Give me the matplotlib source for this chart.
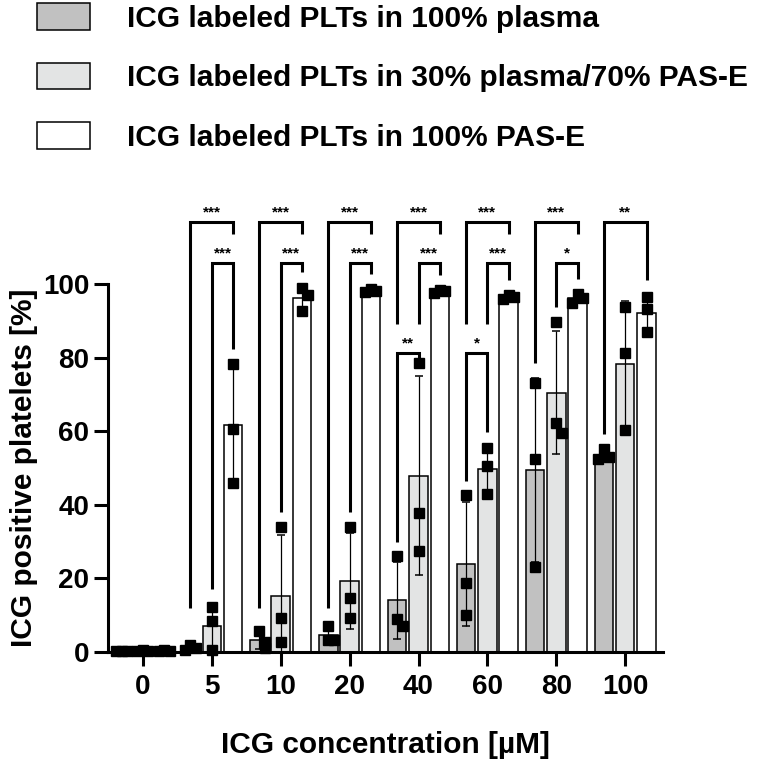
import matplotlib
matplotlib.use("Agg")
import matplotlib.pyplot as plt
from matplotlib.patches import Patch
import numpy as np

plt.rcParams['font.family'] = ['Liberation Sans', 'DejaVu Sans']
plt.rcParams['font.weight'] = 'bold'

# ICG concentration groups
concentrations = ['0', '5', '10', '20', '40', '60', '80', '100']

# three replicates per bar
plasma_100 = [[0.3, 0.4, 0.2], [2.0, 1.0, 0.5], [5.6, 2.8, 1.0], [7.0, 3.3, 3.3],
              [26.0, 9.0, 7.0], [42.6, 18.8, 10.0], [73.0, 52.4, 23.0], [55.2, 52.4, 53.0]]
plasma_30 = [[0.5, 0.4, 0.3], [12.2, 8.5, 0.5], [34.0, 9.2, 2.7], [34.0, 14.7, 9.2],
             [78.5, 37.8, 27.5], [55.4, 50.6, 43.0], [89.7, 62.2, 59.6], [93.7, 81.2, 60.3]]
pas_100 = [[0.4, 0.5, 0.3], [78.3, 60.6, 45.9], [98.8, 97.0, 92.7], [98.6, 98.2, 97.8],
           [98.5, 98.0, 97.6], [97.0, 96.6, 96.0], [97.3, 96.3, 94.8], [96.5, 93.2, 87.0]]

labels = ['ICG labeled PLTs in 100% plasma',
          'ICG labeled PLTs in 30% plasma/70% PAS-E',
          'ICG labeled PLTs in 100% PAS-E']
colors = ['#c1c1c1', '#e3e4e4', '#ffffff']

# significance: (group index, bar a, bar b, level, stars)
brackets = [
    (1, 0, 2, 'outer', '***'), (1, 1, 2, 'inner', '***'),
    (2, 0, 2, 'outer', '***'), (2, 1, 2, 'inner', '***'),
    (3, 0, 2, 'outer', '***'), (3, 1, 2, 'inner', '***'),
    (4, 0, 2, 'outer', '***'), (4, 1, 2, 'inner', '***'), (4, 0, 1, 'low', '**'),
    (5, 0, 2, 'outer', '***'), (5, 1, 2, 'inner', '***'), (5, 0, 1, 'low', '*'),
    (6, 0, 2, 'outer', '***'), (6, 1, 2, 'inner', '*'),
    (7, 0, 2, 'outer', '**'),
]
levels = {'outer': 116.8, 'inner': 105.7, 'low': 81.2}

series = [plasma_100, plasma_30, pas_100]
x = np.arange(len(concentrations))
offset = 0.31
width = 0.27

fig = plt.figure(figsize=(7.57, 7.64), dpi=100)
ax = fig.add_axes([0.1427, 0.1466, 0.7332, 0.602])

tops = np.zeros((3, len(x)))
for i, data in enumerate(series):
    arr = np.array(data)
    mean = arr.mean(axis=1)
    sd = arr.std(axis=1, ddof=1)
    tops[i] = np.maximum(arr.max(axis=1), mean + sd)
    xi = x + (i - 1) * offset
    ax.bar(xi, mean, width=width, color=colors[i], edgecolor='black',
           linewidth=1.1, zorder=2)
    ax.errorbar(xi, mean, yerr=sd, fmt='none', ecolor='black', elinewidth=0.9,
                capsize=3, capthick=1.1, zorder=3)
    # spread points sideways only when they overlap
    for g in range(len(x)):
        vals = sorted(arr[g], reverse=True)
        placed = []
        shifts = [0.0, 0.08, -0.08]
        for v in vals:
            k = sum(1 for p in placed if abs(p - v) < 3)
            placed.append(v)
            ax.plot(xi[g] + shifts[k % 3], v, 's', color='black', markersize=6.5,
                    zorder=4, clip_on=False)

# brackets
for g, a, b, lev, stars in brackets:
    y = levels[lev]
    xa = x[g] + (a - 1) * offset
    xb = x[g] + (b - 1) * offset
    ends = []
    for bar in (a, b):
        bottom = max(tops[bar, g] + 4, 12)
        for g2, a2, b2, lev2, _ in brackets:
            if g2 == g and levels[lev2] < y and a2 <= bar <= b2:
                bottom = max(bottom, levels[lev2] + 8)
        bottom = min(bottom, y - 1.5)
        ends.append(bottom)
    ax.plot([xa, xa, xb, xb], [ends[0], y, y, ends[1]], color='black', lw=2.2,
            solid_joinstyle='miter', solid_capstyle='butt', clip_on=False, zorder=5)
    ax.text((xa + xb) / 2, y + 1.5, stars, ha='center', va='baseline',
            fontsize=11, fontweight='bold')

ax.set_xlim(-0.507, 7.55)
ax.set_ylim(0, 125)
ax.set_xticks(x)
ax.set_xticklabels(concentrations)
ax.set_yticks([0, 20, 40, 60, 80, 100])
ax.tick_params(axis='both', labelsize=20, width=2.2, length=10, direction='out')
ax.tick_params(axis='x', pad=6)
ax.tick_params(axis='y', pad=3.5)
for t in ax.get_xticklabels() + ax.get_yticklabels():
    t.set_fontweight('bold')
for side in ['top', 'right']:
    ax.spines[side].set_visible(False)
for side in ['left', 'bottom']:
    ax.spines[side].set_linewidth(2.2)
ax.spines['left'].set_bounds(0, 100)

ax.set_ylabel('ICG positive platelets [%]', fontsize=21.5, fontweight='bold')
ax.yaxis.set_label_coords(-0.126, 0.4)
ax.set_xlabel('ICG concentration [µM]', fontsize=21.5, fontweight='bold', va='top')
ax.xaxis.set_label_coords(0.5, -0.172)

handles = [Patch(facecolor=c, edgecolor='black', linewidth=1.1) for c in colors]
fig.legend(handles, labels, loc='upper left', bbox_to_anchor=(0.049, 0.996),
           frameon=False, handlelength=1.77, handleheight=1.0,
           handletextpad=1.24, labelspacing=1.0, borderpad=0, borderaxespad=0,
           prop={'weight': 'bold', 'size': 21.5})

fig.savefig('out.png', dpi=100)
